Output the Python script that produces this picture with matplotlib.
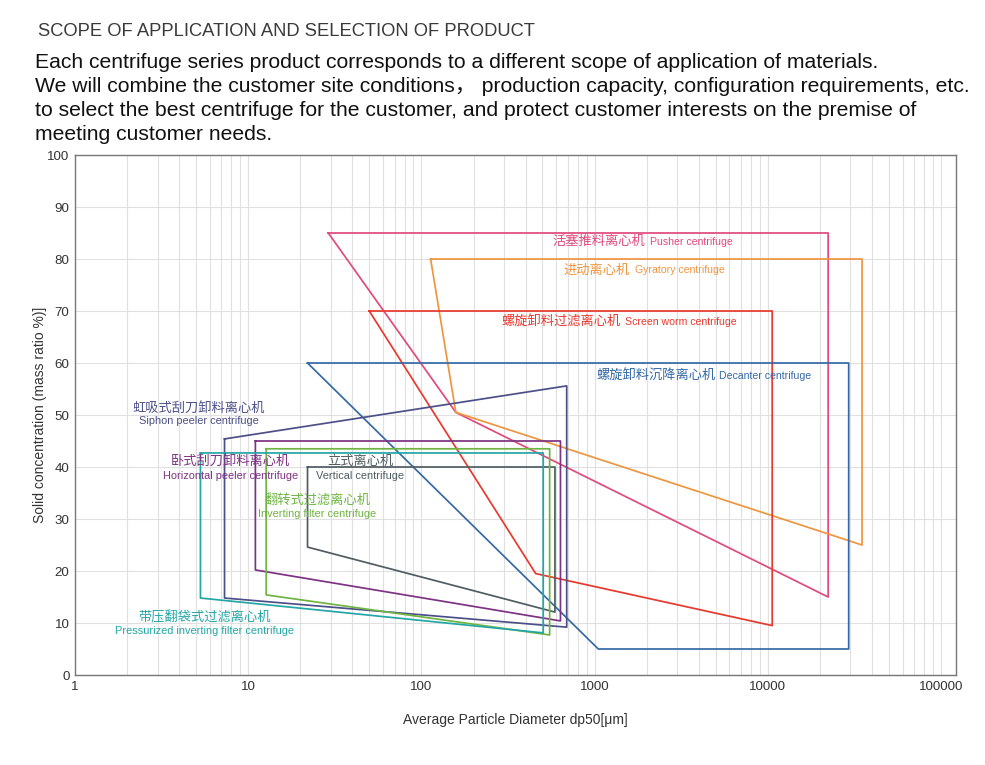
import matplotlib
matplotlib.use("Agg")
import matplotlib.pyplot as plt
from matplotlib.ticker import FixedLocator, NullFormatter, LogLocator

plt.rcParams['font.family'] = ['Liberation Sans', 'Noto Sans CJK SC', 'DejaVu Sans']

# ---------------- data ----------------
names_cn = ["活塞推料离心机", "进动离心机", "螺旋卸料过滤离心机", "螺旋卸料沉降离心机",
            "虹吸式刮刀卸料离心机", "卧式刮刀卸料离心机", "立式离心机",
            "翻转式过滤离心机", "带压翻袋式过滤离心机"]
names_en = ["Pusher centrifuge", "Gyratory centrifuge", "Screen worm centrifuge",
            "Decanter centrifuge", "Siphon peeler centrifuge", "Horizontal peeler centrifuge",
            "Vertical centrifuge", "Inverting filter centrifuge",
            "Pressurized inverting filter centrifuge"]

# polygon vertices: particle diameter (um) and solid concentration (%)
pusher_x = [29, 22300, 22300, 158]
pusher_y = [85, 85, 15, 50.5]
gyratory_x = [113, 35000, 35000, 158]
gyratory_y = [80, 80, 25, 50.5]
screen_x = [50, 10600, 10600, 457]
screen_y = [70, 70, 9.5, 19.5]
decanter_x = [22, 29300, 29300, 1050]
decanter_y = [60, 60, 5, 5]
siphon_x = [7.3, 690, 690, 7.3]
siphon_y = [45.4, 55.6, 9.2, 14.8]
horizontal_x = [11, 635, 635, 11]
horizontal_y = [45, 45, 10.4, 20.2]
vertical_x = [22, 590, 590, 22]
vertical_y = [40, 40, 12.1, 24.6]
inverting_x = [12.7, 550, 550, 12.7]
inverting_y = [43.5, 43.5, 7.7, 15.4]
pressurized_x = [5.3, 505, 505, 5.3]
pressurized_y = [42.7, 42.7, 8.1, 14.8]

x_ticks = [1, 10, 100, 1000, 10000, 100000]
x_tick_labels = ["1", "10", "100", "1000", "10000", "100000"]
y_ticks = list(range(0, 101, 10))

colors = ["#e04a7c", "#f0953f", "#e8392e", "#3569a6", "#4c5088", "#7d3283",
          "#4f5d62", "#6fb443", "#24a6a6"]

polys = [(pusher_x, pusher_y), (gyratory_x, gyratory_y), (screen_x, screen_y),
         (decanter_x, decanter_y), (siphon_x, siphon_y), (horizontal_x, horizontal_y),
         (vertical_x, vertical_y), (inverting_x, inverting_y),
         (pressurized_x, pressurized_y)]

# ---------------- figure ----------------
fig = plt.figure(figsize=(9.85, 7.65), dpi=100)
ax = fig.add_axes([75/985, 1-675/765, (956-75)/985, (675-155)/765])
ax.set_xscale('log')
ax.set_xlim(1, 122000)
ax.set_ylim(0, 100)

ax.xaxis.set_major_locator(FixedLocator(x_ticks))
ax.set_xticklabels(x_tick_labels)
ax.xaxis.set_minor_locator(LogLocator(base=10, subs=range(2, 10)))
ax.xaxis.set_minor_formatter(NullFormatter())
ax.set_yticks(y_ticks)
ax.grid(True, which='both', axis='x', color='#e0e0e0', lw=0.8)
ax.grid(True, which='major', axis='y', color='#e0e0e0', lw=0.8)
ax.set_axisbelow(True)
ax.tick_params(axis='both', which='both', length=0, labelsize=9.6, colors='#333333', pad=4)
for s in ax.spines.values():
    s.set_color('#777777')
    s.set_linewidth(1.0)

for (xs, ys), c in zip(polys, colors):
    ax.plot(list(xs) + [xs[0]], list(ys) + [ys[0]], color=c, lw=1.25)

ax.set_xlabel("Average Particle Diameter dp50[μm]", fontsize=10, color='#333333', labelpad=15)
ax.set_ylabel("Solid concentration (mass ratio %)]", fontsize=10, color='#333333', labelpad=0)

cn_font = ['Noto Sans CJK SC']
# right-side labels: Chinese then English on one line
side_labels = [(0, 1950, 2080, 83.3), (1, 1600, 1700, 77.9), (2, 1420, 1500, 67.9),
               (3, 5000, 5250, 57.5)]
for i, xc, xe, y in side_labels:
    ax.text(xc, y, names_cn[i], color=colors[i], fontsize=9.5, family=cn_font,
            fontweight='medium', ha='right', va='center')
    ax.text(xe, y, names_en[i], color=colors[i], fontsize=7.6, ha='left', va='center')

# stacked labels
stack_labels = [(4, 5.2, 51.3, 48.8), (5, 7.9, 41.0, 38.3), (6, 44.4, 41.0, 38.3),
                (7, 25, 33.7, 31.0), (8, 5.6, 11.0, 8.5)]
for i, x, ycn, yen in stack_labels:
    ax.text(x, ycn, names_cn[i], color=colors[i], fontsize=9.5, family=cn_font,
            fontweight='medium', ha='center', va='center')
    ax.text(x, yen, names_en[i], color=colors[i], fontsize=7.9, ha='center', va='center')

# ---------------- header text ----------------
fig.text(38/985, 1-32/765, "SCOPE OF APPLICATION AND SELECTION OF PRODUCT",
         fontsize=13.2, color='#3a3a3a', ha='left', va='center')
para = ["Each centrifuge series product corresponds to a different scope of application of materials.",
        "We will combine the customer site conditions\uff0c production capacity, configuration requirements, etc.",
        "to select the best centrifuge for the customer, and protect customer interests on the premise of",
        "meeting customer needs."]
for k, line in enumerate(para):
    fig.text(35/985, 1-(62+24.3*k)/765, line, fontsize=15.2, color='#111111',
             ha='left', va='center',
             family=['Liberation Sans', 'Noto Sans CJK SC'])

fig.savefig("out.png", dpi=100, facecolor='white')
